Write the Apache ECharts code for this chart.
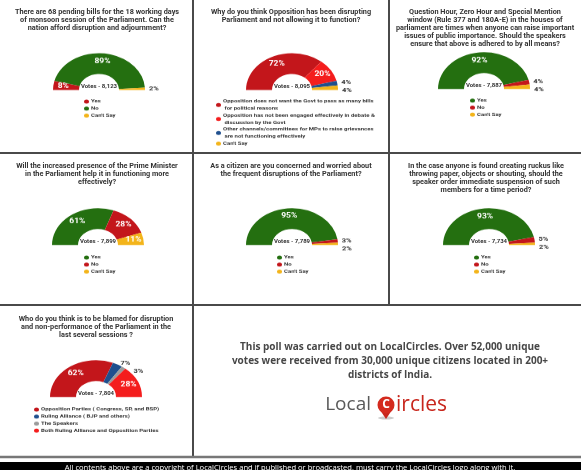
<!DOCTYPE html>
<html><head><meta charset="utf-8">
<script src="https://cdn.jsdelivr.net/npm/echarts@6/dist/echarts.min.js"></script>
<style>
html,body{margin:0;padding:0;background:#fff;}
#wrap{position:relative;width:581px;height:470px;overflow:hidden;}
#a{position:absolute;left:0;top:0;width:581px;height:470px;}
#b{position:absolute;left:0;top:0;width:581px;height:588px;transform:scaleY(0.8);transform-origin:0 0;}
</style>
</head><body><div id="wrap"><div id="a"></div><div id="b"></div></div>
<script>
// ---- data ----
const title1 = "There are 68 pending bills for the 18 working days\nof monsoon session of the Parliament. Can the\nnation afford disruption and adjournment?";
const title2 = "Why do you think Opposition has been disrupting\nParliament and not allowing it to function?";
const title3 = "Question Hour, Zero Hour and Special Mention\nwindow (Rule 377 and 180A-E) in the houses of\nparliament are times when anyone can raise important\nissues of public importance. Should the speakers\nensure that above is adhered to by all means?";
const title4 = "Will the increased presence of the Prime Minister\nin the Parliament help it in functioning more\neffectively?";
const title5 = "As a citizen are you concerned and worried about\nthe frequent disruptions of the Parliament?";
const title6 = "In the case anyone is found creating ruckus like\nthrowing paper, objects or shouting, should the\nspeaker order immediate suspension of such\nmembers for a time period?";
const title7 = "Who do you think is to be blamed for disruption\nand non-performance of the Parliament in the\nlast several sessions ?";

const votes = ["Votes - 8,123", "Votes - 8,095", "Votes - 7,887", "Votes - 7,899", "Votes - 7,789", "Votes - 7,734", "Votes - 7,804"];

const cats1 = ["Yes", "No", "Can't Say"];
const vals1 = [8, 89, 2];
const cats2 = ["Opposition does not want the Govt to pass as many bills for political reasons",
               "Opposition has not been engaged effectively in debate & discussion by the Govt",
               "Other channels/committees for MPs to raise grievances are not functioning effectively",
               "Can't Say"];
const vals2 = [72, 20, 4, 4];
const cats3 = ["Yes", "No", "Can't Say"];
const vals3 = [92, 4, 4];
const cats4 = ["Yes", "No", "Can't Say"];
const vals4 = [61, 28, 11];
const cats5 = ["Yes", "No", "Can't Say"];
const vals5 = [95, 3, 2];
const cats6 = ["Yes", "No", "Can't Say"];
const vals6 = [93, 5, 2];
const cats7 = ["Opposition Parties ( Congress, SP, and BSP)", "Ruling Alliance ( BJP and others)", "The Speakers", "Both Ruling Alliance and Opposition Parties"];
const vals7 = [62, 7, 3, 28];

const footnote = "This poll was carried out on LocalCircles. Over 52,000 unique\nvotes were received from 30,000 unique citizens located in 200+\ndistricts of India.";
const copyright = "All contents above are a copyright of LocalCircles and if published or broadcasted, must carry the LocalCircles logo along with it.";

// ---- styles / layout ----
const S = 0.8; // vertical squash of the donut layer (matches #b transform)
const GREEN = '#246f10', RED = '#c3161b', BRED = '#f41d1d', YEL = '#f3b41a', BLUE = '#1f4f8e', GRAY = '#9b9b9b';
const charts = [
  {title: title1, tx: 97, ty: 8, cats: cats1, vals: vals1, colors: [RED, GREEN, YEL], c: [99, 90], lg: [84, 98], lw: 120},
  {title: title2, tx: 291, ty: 8, cats: cats2, vals: vals2, colors: [RED, BRED, BLUE, YEL], c: [292, 90], lg: [216, 98], lw: 152},
  {title: title3, tx: 485, ty: 8, cats: cats3, vals: vals3, colors: [GREEN, RED, YEL], c: [484, 89], lg: [470, 97], lw: 100},
  {title: title4, tx: 97, ty: 162, cats: cats4, vals: vals4, colors: [GREEN, RED, YEL], c: [98, 245], lg: [84, 254], lw: 100},
  {title: title5, tx: 291, ty: 162, cats: cats5, vals: vals5, colors: [GREEN, RED, YEL], c: [292, 245], lg: [277, 254], lw: 100},
  {title: title6, tx: 486, ty: 162, cats: cats6, vals: vals6, colors: [GREEN, RED, YEL], c: [489, 245], lg: [474, 254], lw: 100},
  {title: title7, tx: 96, ty: 315, cats: cats7, vals: vals7, colors: [RED, BLUE, GRAY, BRED], c: [96, 397], lg: [34, 406], lw: 160}
];
const FONT = 'Roboto, "DejaVu Sans", sans-serif';

const series = [], legend = [], graphic = [];
charts.forEach((ch, i) => {
  series.push({
    type: 'pie', name: 'q' + (i + 1),
    center: [ch.c[0], ch.c[1] / S], radius: [20, 46],
    startAngle: 180, endAngle: 0, clockwise: true,
    silent: true, animation: false,
    label: {show: true, position: 'inside', formatter: '{c}%', color: '#fff', fontWeight: 'bold', fontSize: 8.5, fontFamily: FONT},
    labelLine: {show: false, length: 2, length2: 2},
    data: ch.cats.map((n, k) => {
      const d = {name: n, value: ch.vals[k], itemStyle: {color: ch.colors[k]}};
      if (ch.vals[k] < 8) d.label = {position: 'outside', color: '#333', fontSize: 7.5, distanceToLabelLine: 0};
      return d;
    })
  });
  legend.push({
    orient: 'vertical', left: ch.lg[0], top: ch.lg[1] / S, padding: 0, itemGap: 0,
    icon: 'circle', itemWidth: 5, itemHeight: 6,
    selectedMode: false,
    textStyle: {fontSize: 6, fontWeight: 'bold', color: '#333', fontFamily: FONT, lineHeight: 7 / S, width: ch.lw, overflow: 'break', padding: [0, 0, 0, -3]},
    data: ch.cats.map((n, k) => ({name: n, itemStyle: {color: ch.colors[k]}}))
  });
  graphic.push({type: 'text', x: ch.tx, y: ch.ty, silent: true,
    style: {text: ch.title, align: 'center', verticalAlign: 'top', fontSize: 7.3, fontWeight: 'bold', fontFamily: FONT, fill: '#333', lineHeight: 8}});
  graphic.push({type: 'text', x: ch.c[0], y: ch.c[1] - 1, silent: true,
    style: {text: votes[i], align: 'center', verticalAlign: 'bottom', fontSize: 6, fontWeight: 'bold', fontFamily: FONT, fill: '#333'}});
});

// grid lines
const LC = '#4a4a4a';
[[193, 0, 193, 305], [389, 0, 389, 305], [193, 305, 193, 457]].forEach(p => graphic.push({type: 'line', silent: true, shape: {x1: p[0], y1: p[1], x2: p[2], y2: p[3]}, style: {stroke: LC, lineWidth: 2}}));
[[0, 153, 581, 153], [0, 305, 581, 305]].forEach(p => graphic.push({type: 'line', silent: true, shape: {x1: p[0], y1: p[1], x2: p[2], y2: p[3]}, style: {stroke: LC, lineWidth: 2}}));
graphic.push({type: 'line', silent: true, shape: {x1: 0, y1: 457, x2: 581, y2: 457}, style: {stroke: '#777', lineWidth: 2.5}});
graphic.push({type: 'rect', silent: true, shape: {x: 0, y: 462, width: 581, height: 8}, style: {fill: '#000'}});
graphic.push({type: 'text', x: 290, y: 468, silent: true, style: {text: copyright, align: 'center', verticalAlign: 'middle', fontSize: 7.6, fontFamily: '"Open Sans", sans-serif', fill: '#fff'}});

// footnote
graphic.push({type: 'text', x: 390, y: 340, silent: true,
  style: {text: footnote, align: 'center', verticalAlign: 'top', fontSize: 10, fontWeight: 'bold', fontFamily: '"Open Sans", sans-serif', fill: '#474747', lineHeight: 14}});
// logo
graphic.push({type: 'text', x: 371, y: 405, silent: true, style: {text: 'Local', align: 'right', verticalAlign: 'middle', fontSize: 19, fontFamily: '"Open Sans", sans-serif', fill: '#5a5a5a'}});
graphic.push({type: 'ellipse', silent: true, shape: {cx: 386, cy: 418, rx: 8, ry: 1.5}, style: {fill: '#ccc'}});
graphic.push({type: 'polygon', silent: true, shape: {points: [[380, 410], [392, 410], [386, 419]]}, style: {fill: '#c8261c'}});
graphic.push({type: 'circle', silent: true, shape: {cx: 386, cy: 405, r: 8.5}, style: {fill: '#d42a1e'}});
graphic.push({type: 'text', x: 386, y: 405, silent: true, style: {text: 'C', align: 'center', verticalAlign: 'middle', fontSize: 12, fontWeight: 'bold', fontFamily: '"Open Sans", sans-serif', fill: '#fff'}});
graphic.push({type: 'text', x: 396, y: 405, silent: true, style: {text: 'ircles', align: 'left', verticalAlign: 'middle', fontSize: 21, fontFamily: '"Open Sans", sans-serif', fill: '#c8261c'}});

const chartA = echarts.init(document.getElementById('a'), null, {renderer: 'canvas'});
chartA.setOption({animation: false, backgroundColor: '#fff', graphic});
const chartB = echarts.init(document.getElementById('b'), null, {renderer: 'canvas'});
chartB.setOption({animation: false, backgroundColor: 'transparent', series, legend});
</script></body></html>
